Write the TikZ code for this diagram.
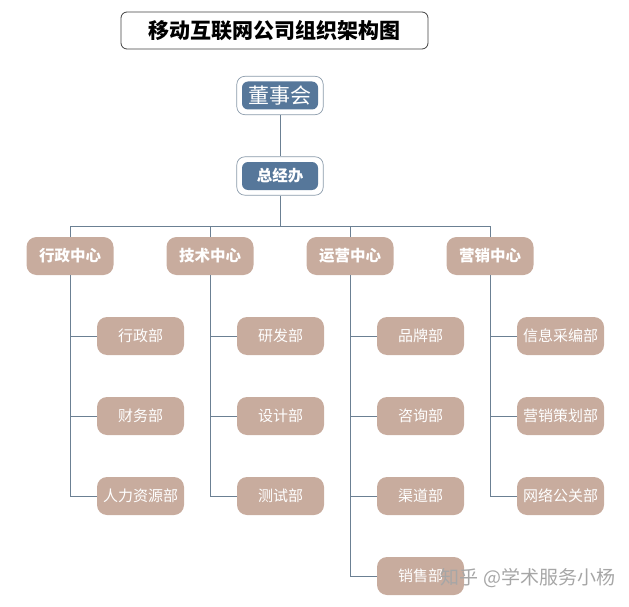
\documentclass[tikz,border=0pt]{standalone}
\usepackage{fontspec}
\setmainfont{Noto Sans CJK SC}
\usepackage{xcolor}
\usepackage{tikz}
\usetikzlibrary{positioning}
\usetikzlibrary{fit}
\definecolor{boardblue}{HTML}{56779A}
\definecolor{taupe}{HTML}{C8AC9E}
\definecolor{linkgray}{HTML}{6B8093}
\tikzset{link/.style = {draw=linkgray, line width=0.9pt}}

\begin{document}
\begin{tikzpicture}[x=1pt,y=-1pt,node distance=140pt,
  title box/.style={draw=black!75,line width=0.8pt,rounded corners=6pt,minimum width=307pt,minimum height=37pt,font=\bfseries\fontsize{21}{21}\selectfont},
  top node/.style={fill=boardblue,text=white,rounded corners=6pt,minimum width=76pt,minimum height=28pt},
  ring node/.style={draw=linkgray!80,line width=0.7pt,rounded corners=8pt,inner sep=5pt},
  centre node/.style={fill=taupe,text=white,rounded corners=10pt,minimum width=87pt,minimum height=38pt,font=\bfseries\fontsize{15.5}{15.5}\selectfont},
  dept node/.style={fill=taupe,text=white,rounded corners=10pt,minimum width=87pt,minimum height=38pt,font=\fontsize{15}{15}\selectfont}]
                \useasboundingbox (0,0) rectangle (629,607);
                \node[title box] (title) at (274.5,30.5) {移动互联网公司组织架构图};

                \node[top node, font=\fontsize{21}{21}\selectfont] (board) at (280,95.5) {董事会};
                \node[ring node, fit=(board)] (board ring) {};
                \node[top node, font=\bfseries\fontsize{15.5}{15.5}\selectfont] (gm) [below of=board, node distance=80.5pt] {总经办};
                \node[ring node, fit=(gm)] (gm ring) {};

                \node[centre node] (c1) at (70,256) {行政中心};
                \node[centre node] (c2) [right of=c1] {技术中心};
                \node[centre node] (c3) [right of=c2] {运营中心};
                \node[centre node] (c4) [right of=c3] {营销中心};

                \begin{scope}[node distance=80pt]
                \node[dept node] (d11) [below of=c1, xshift=70.5pt] {行政部};
                \node[dept node] (d12) [below of=d11] {财务部};
                \node[dept node] (d13) [below of=d12] {人力资源部};
                \node[dept node] (d21) [below of=c2, xshift=70.5pt] {研发部};
                \node[dept node] (d22) [below of=d21] {设计部};
                \node[dept node] (d23) [below of=d22] {测试部};
                \node[dept node] (d31) [below of=c3, xshift=70.5pt] {品牌部};
                \node[dept node] (d32) [below of=d31] {咨询部};
                \node[dept node] (d33) [below of=d32] {渠道部};
                \node[dept node] (d34) [below of=d33] {销售部};
                \node[dept node] (d41) [below of=c4, xshift=70.5pt] {信息采编部};
                \node[dept node] (d42) [below of=d41] {营销策划部};
                \node[dept node] (d43) [below of=d42] {网络公关部};
                \end{scope}

                \coordinate (bus) at (280,226);
                \path[link] (board ring) -- (gm ring);
                \path[link] (gm ring) -- (bus);
                \foreach \c in {c1,c2,c3,c4}
                    \path[link] (bus) -| (\c);
                \foreach \c/\d in {c1/d11,c1/d12,c1/d13,c2/d21,c2/d22,c2/d23,c3/d31,c3/d32,c3/d33,c3/d34,c4/d41,c4/d42,c4/d43}
                    \path[link] (\c.south) |- (\d.west);

                \node[text=black!35, font=\fontsize{19}{19}\selectfont] (mark) at (528,578) {知乎 @学术服务小杨};
            \end{tikzpicture}
\end{document}
